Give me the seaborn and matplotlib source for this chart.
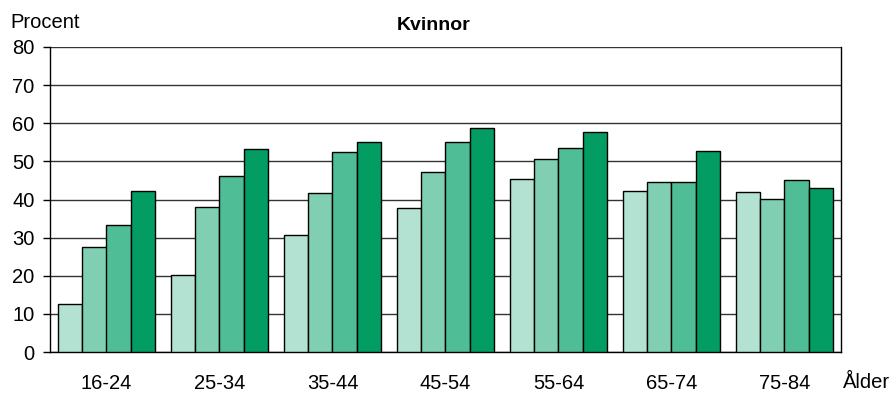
import pandas as pd
import seaborn as sns
from matplotlib import pyplot as plt

# age groups and the four series (percent)
ages = ["16-24", "25-34", "35-44", "45-54", "55-64", "65-74", "75-84"]
series_names = ["Serie 1", "Serie 2", "Serie 3", "Serie 4"]
serie_1 = [12.6, 20.3, 30.6, 37.8, 45.4, 42.2, 42.0]
serie_2 = [27.6, 38.0, 41.6, 47.1, 50.6, 44.5, 40.2]
serie_3 = [33.2, 46.2, 52.5, 55.2, 53.6, 44.7, 45.2]
serie_4 = [42.2, 53.3, 55.1, 58.7, 57.7, 52.6, 43.0]
colors = ["#b3e2d2", "#80cfb3", "#4fbd96", "#039c62"]

rows = []
for name, vals in zip(series_names, [serie_1, serie_2, serie_3, serie_4]):
    for age, v in zip(ages, vals):
        rows.append((age, name, v))
df = pd.DataFrame(rows, columns=["age", "serie", "value"])

sns.set_style("white")
plt.rcParams["font.family"] = ["Liberation Sans", "DejaVu Sans"]
plt.rcParams["text.color"] = "black"
plt.rcParams["xtick.color"] = "black"
plt.rcParams["ytick.color"] = "black"

fig = plt.figure(figsize=(8.93, 3.93), dpi=100)
ax = fig.add_axes([50 / 893, 41 / 393, 791 / 893, 305 / 393])
sns.barplot(data=df, x="age", y="value", hue="serie", palette=colors,
            width=0.867, gap=0, edgecolor="black", linewidth=1,
            saturation=1, legend=False, ax=ax, zorder=3)

ax.set_ylim(0, 80)
ax.set_yticks(range(0, 81, 10))
ax.yaxis.grid(True, color="#333333", linewidth=1, zorder=0)
ax.set_axisbelow(True)
ax.tick_params(axis="y", left=True, length=5, width=1, labelsize=14.5, pad=6)
ax.tick_params(axis="x", bottom=False, labelsize=14.5, pad=12)
for s in ["left", "bottom", "right"]:
    ax.spines[s].set_color("black")
    ax.spines[s].set_linewidth(1)
ax.spines["top"].set_visible(False)
ax.set_xlabel("")
ax.set_ylabel("")

fig.text(10 / 893, 1 - 22 / 393, "Procent", fontsize=14.5, va="center", ha="left")
fig.text(434 / 893, 1 - 25 / 393, "Kvinnor", fontsize=14, fontweight="bold",
         va="center", ha="center")
fig.text(890 / 893, 1 - 383 / 393, "Ålder", fontsize=14.5, va="center", ha="right")

plt.savefig("out.png", dpi=100)
